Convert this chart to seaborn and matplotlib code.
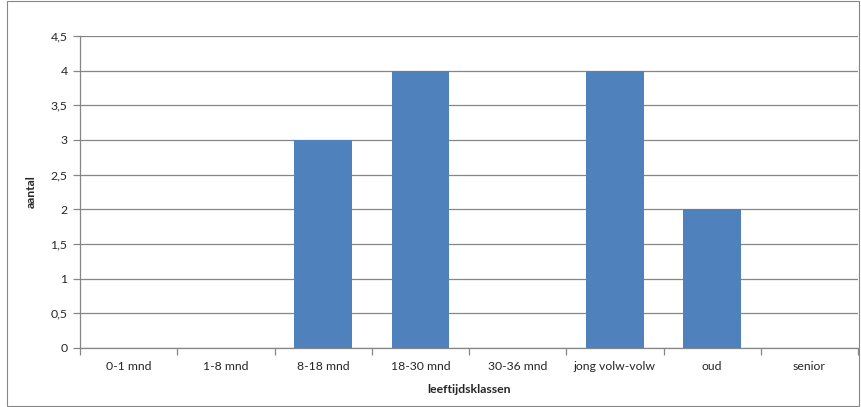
import matplotlib
matplotlib.use("Agg")
import matplotlib.pyplot as plt
import seaborn as sns
import pandas as pd
import numpy as np
from matplotlib.patches import Rectangle
from matplotlib.ticker import FixedLocator, FuncFormatter

categories = ["0-1 mnd", "1-8 mnd", "8-18 mnd", "18-30 mnd", "30-36 mnd", "jong volw-volw", "oud", "senior"]
values = [0, 0, 3, 4, 0, 4, 2, 0]
yticks = [0, 0.5, 1, 1.5, 2, 2.5, 3, 3.5, 4, 4.5]

sns.set_style("white")
plt.rcParams['font.family'] = ['Lato', 'DejaVu Sans']

df = pd.DataFrame({"cat": categories, "val": values})

fig = plt.figure(figsize=(8.61, 4.07), dpi=100)
ax = fig.add_axes([80/861, 1 - 348/407, (858-80)/861, (348-36)/407])

sns.barplot(data=df, x="cat", y="val", color="#4F81BD", saturation=1, width=0.59,
            linewidth=0, edgecolor="none", ax=ax, zorder=3)

ax.set_ylim(0, 4.5)
ax.set_xlim(-0.5, len(categories) - 0.5)
ax.yaxis.set_major_locator(FixedLocator(yticks))
ax.yaxis.set_major_formatter(FuncFormatter(lambda v, p: ("%g" % v).replace(".", ",")))
ax.grid(axis="y", color="#868686", linewidth=0.9, zorder=0)
ax.set_axisbelow(True)

for s in ["top", "right"]:
    ax.spines[s].set_visible(False)
for s in ["left", "bottom"]:
    ax.spines[s].set_color("#868686")
    ax.spines[s].set_linewidth(0.9)

fs = 8.8
ax.tick_params(axis="y", length=5, width=0.9, color="#868686", labelsize=fs, pad=4, left=True)
ax.tick_params(axis="x", which="major", length=0, labelsize=fs, pad=9)
ax.set_xticks(np.arange(-0.5, len(categories), 1.0), minor=True)
ax.tick_params(axis="x", which="minor", length=5, width=0.9, color="#868686", bottom=True)

ax.set_xlabel("leeftijdsklassen", fontsize=fs, fontweight="bold", labelpad=9)
ax.set_ylabel("aantal", fontsize=fs, fontweight="bold", labelpad=10)

fig.patches.append(Rectangle((7/861, 0.002), (859-7)/861, 0.996, transform=fig.transFigure,
                             fill=False, edgecolor="#868686", linewidth=0.8))

fig.savefig("out.png", dpi=100)
